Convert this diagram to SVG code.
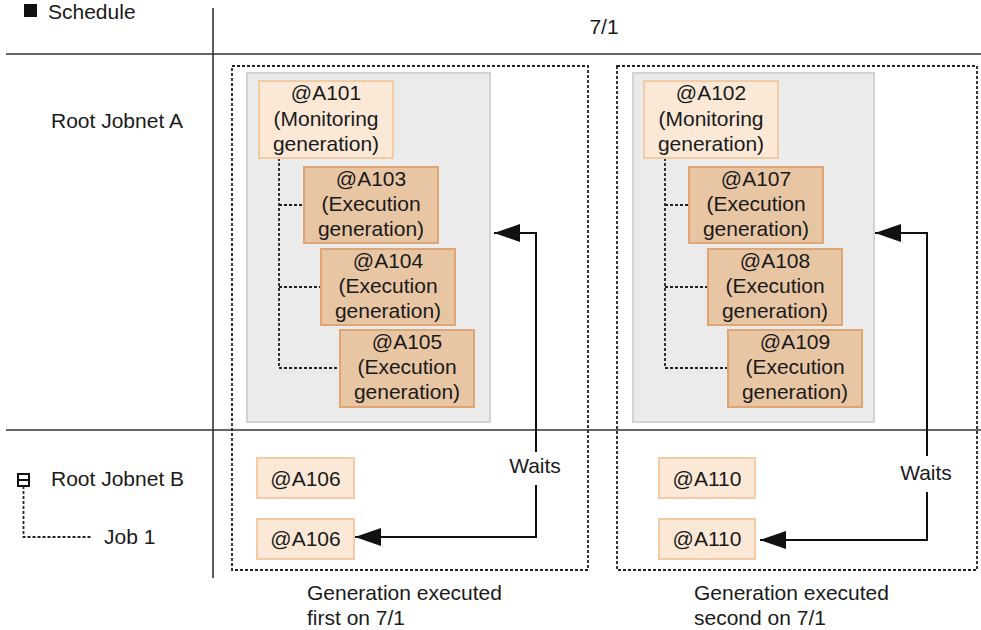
<svg xmlns="http://www.w3.org/2000/svg" width="981" height="630" viewBox="0 0 981 630">
<defs>
<style>
text{font-family:"Liberation Sans",Arial,sans-serif;font-size:21px;fill:#1a1a1a}
.c{text-anchor:middle}
.grid{stroke:#333;stroke-width:1.6;fill:none}
.dbox{stroke:#222;stroke-width:1.8;stroke-dasharray:3 2;fill:none}
.gray{fill:#ebebeb;stroke:#d3d3d3;stroke-width:2}
.mon{fill:#fbe8d7;stroke:#f3cca6;stroke-width:2}
.exe{fill:#e8c5a3;stroke:#dea674;stroke-width:2}
.tree{stroke:#222;stroke-width:1.8;stroke-dasharray:3 2;fill:none}
.arr{stroke:#111;stroke-width:2;fill:none}
</style>
<marker id="ah" markerWidth="26" markerHeight="18" refX="26" refY="9" orient="auto" markerUnits="userSpaceOnUse">
<path d="M0,0 L26,9 L0,18 Z" fill="#111"/>
</marker>
</defs>
<rect width="981" height="630" fill="#fff"/>

<g id="header">
<rect x="24" y="4" width="13" height="13" fill="#111"/>
<text x="48" y="19">Schedule</text>
<text class="c" x="604" y="34">7/1</text>
<text x="51" y="128">Root Jobnet A</text>
<text x="51" y="486">Root Jobnet B</text>
<text x="104" y="544">Job 1</text>
</g>

<g id="grid">
<line class="grid" x1="213" y1="8" x2="213" y2="578"/>
<line class="grid" x1="6" y1="54" x2="981" y2="54"/>
<line class="grid" x1="6" y1="430" x2="981" y2="430"/>
</g>

<g id="jobnetB-icon">
<rect x="18" y="474" width="11" height="12" fill="#fff" stroke="#111" stroke-width="2"/>
<line x1="18" y1="480" x2="29" y2="480" stroke="#111" stroke-width="2"/>
<path class="tree" d="M23.5,486 V537 H91"/>
</g>

<g id="gen1">
<rect class="dbox" x="232" y="66" width="356" height="504"/>
<rect class="gray" x="247" y="73" width="243" height="349"/>
<path class="tree" d="M279,158 V368 M279,205 H304 M279,287 H321 M279,368 H340"/>
<g id="A101"><rect class="mon" x="259" y="81" width="134" height="77"/>
<text class="c" x="326" y="100">@A101</text><text class="c" x="326" y="126">(Monitoring</text><text class="c" x="326" y="151">generation)</text></g>
<g id="A103"><rect class="exe" x="304" y="167" width="134" height="76"/>
<text class="c" x="371" y="186">@A103</text><text class="c" x="371" y="211">(Execution</text><text class="c" x="371" y="236">generation)</text></g>
<g id="A104"><rect class="exe" x="321" y="249" width="134" height="76"/>
<text class="c" x="388" y="268">@A104</text><text class="c" x="388" y="293">(Execution</text><text class="c" x="388" y="318">generation)</text></g>
<g id="A105"><rect class="exe" x="340" y="330" width="134" height="77"/>
<text class="c" x="407" y="349">@A105</text><text class="c" x="407" y="374">(Execution</text><text class="c" x="407" y="399">generation)</text></g>
<g id="A106a"><rect class="mon" x="257" y="458" width="97" height="40"/>
<text class="c" x="305.5" y="486">@A106</text></g>
<g id="A106b"><rect class="mon" x="257" y="519" width="97" height="40"/>
<text class="c" x="305.5" y="546">@A106</text></g>
<text class="c" x="535" y="473">Waits</text>
<text x="307" y="600">Generation executed</text>
<text x="307" y="625">first on 7/1</text>
</g>

<g id="gen2">
<rect class="dbox" x="617" y="66" width="360" height="504"/>
<rect class="gray" x="633" y="73" width="241" height="349"/>
<path class="tree" d="M665,158 V368 M665,205 H689 M665,287 H708 M665,368 H727"/>
<g id="A102"><rect class="mon" x="644" y="81" width="134" height="77"/>
<text class="c" x="711" y="100">@A102</text><text class="c" x="711" y="126">(Monitoring</text><text class="c" x="711" y="151">generation)</text></g>
<g id="A107"><rect class="exe" x="689" y="167" width="134" height="76"/>
<text class="c" x="756" y="186">@A107</text><text class="c" x="756" y="211">(Execution</text><text class="c" x="756" y="236">generation)</text></g>
<g id="A108"><rect class="exe" x="708" y="249" width="134" height="76"/>
<text class="c" x="775" y="268">@A108</text><text class="c" x="775" y="293">(Execution</text><text class="c" x="775" y="318">generation)</text></g>
<g id="A109"><rect class="exe" x="728" y="330" width="134" height="77"/>
<text class="c" x="795" y="349">@A109</text><text class="c" x="795" y="374">(Execution</text><text class="c" x="795" y="399">generation)</text></g>
<g id="A110a"><rect class="mon" x="659" y="458" width="96" height="40"/>
<text class="c" x="707" y="486">@A110</text></g>
<g id="A110b"><rect class="mon" x="659" y="519" width="96" height="40"/>
<text class="c" x="707" y="546">@A110</text></g>
<text class="c" x="926" y="480">Waits</text>
<text x="694" y="600">Generation executed</text>
<text x="694" y="625">second on 7/1</text>
</g>

<g id="connectors">
<path class="arr" d="M536,452 V233 H494" marker-end="url(#ah)"/>
<path class="arr" d="M536,485 V537 H355" marker-end="url(#ah)"/>
<path class="arr" d="M927,456 V233 H875" marker-end="url(#ah)"/>
<path class="arr" d="M927,492 V540 H760" marker-end="url(#ah)"/>
</g>
</svg>
